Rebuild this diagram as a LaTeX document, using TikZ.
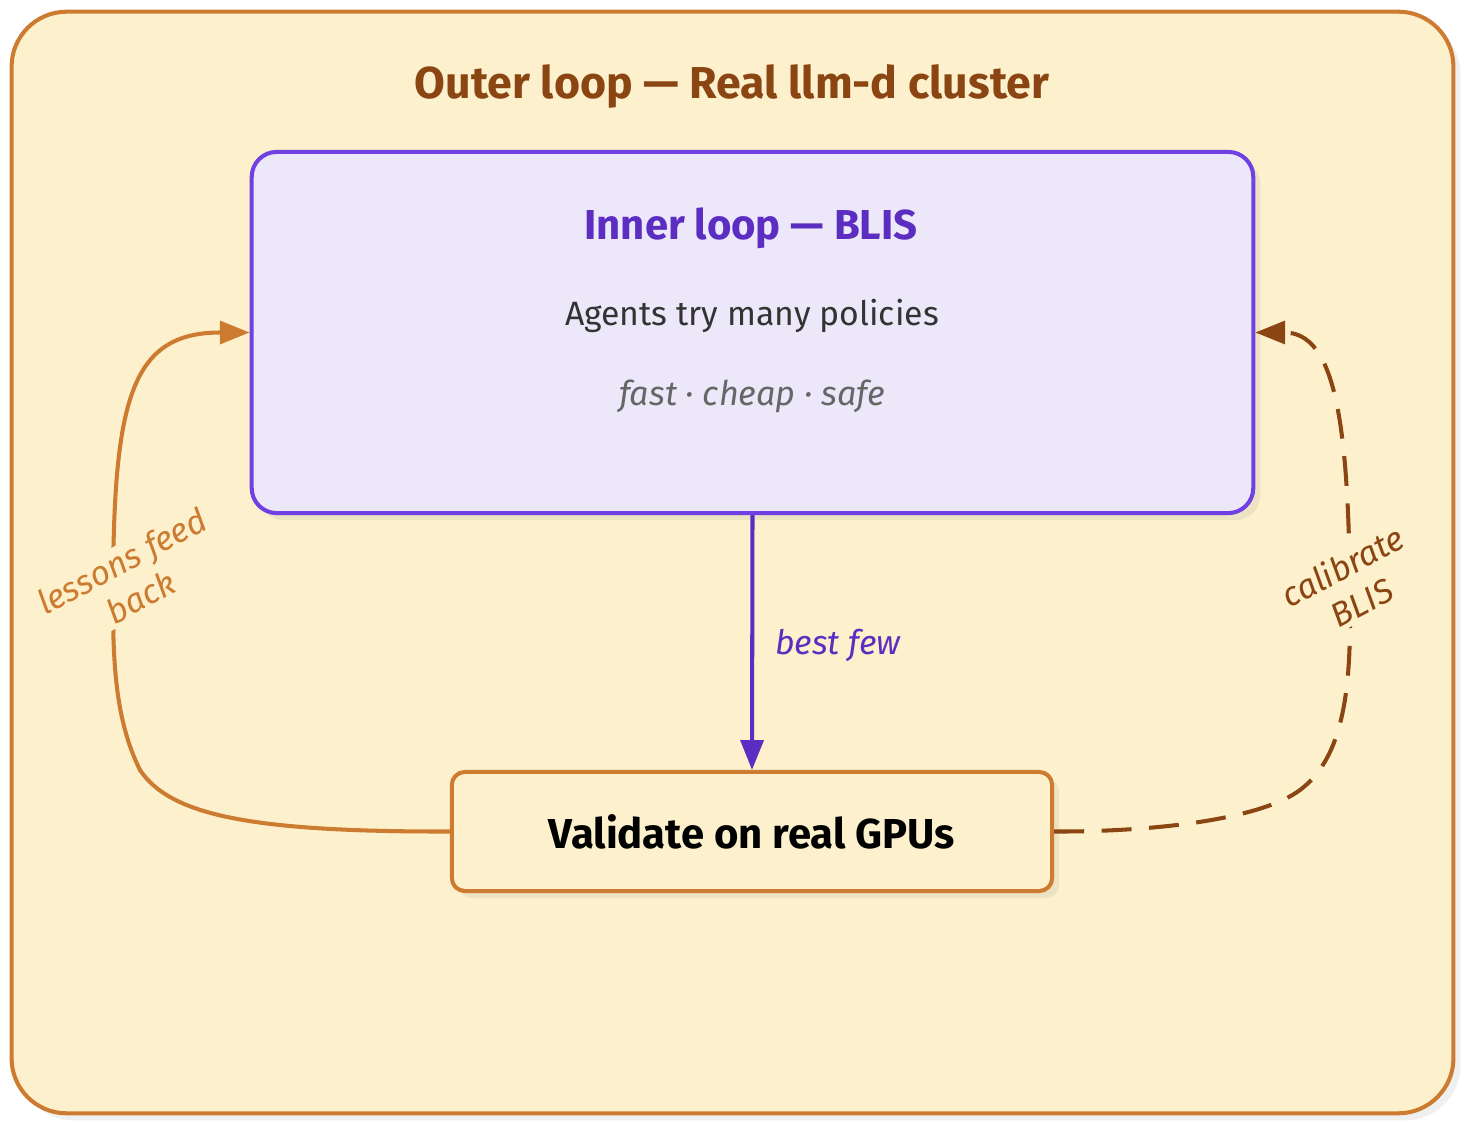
\documentclass[tikz,border=0pt]{standalone}
\usepackage{fontspec}
\setmainfont{Fira Sans}
\usetikzlibrary{arrows.meta,shadows}
\definecolor{outbg}{RGB}{252,241,204}
\definecolor{outc}{RGB}{205,123,48}
\definecolor{brownc}{RGB}{139,69,19}
\definecolor{inbg}{RGB}{236,232,250}
\definecolor{inc}{RGB}{112,64,226}
\definecolor{inttl}{RGB}{91,45,192}
\definecolor{txtc}{RGB}{51,51,51}
\definecolor{subc}{RGB}{102,102,102}

\begin{document}
\begin{tikzpicture}[
  x=0.01cm, y=-0.01cm,
  shd/.style={drop shadow={shadow xshift=2pt, shadow yshift=-2pt, opacity=0.12}},
  outerbox/.style={draw=outc, fill=outbg, line width=1.15pt, rounded corners=0.55cm,
                   minimum width=14.41cm, minimum height=11.01cm, shd},
  innerbox/.style={draw=inc, fill=inbg, line width=1.15pt, rounded corners=0.25cm,
                   minimum width=10.01cm, minimum height=3.61cm, shd},
  valbox/.style={draw=outc, fill=outbg, line width=1.15pt, rounded corners=0.13cm,
                 minimum width=6.0cm, minimum height=1.19cm, shd,
                 font=\fontsize{11.9pt}{14pt}\selectfont\bfseries},
  ttl/.style={font=\fontsize{12.7pt}{15pt}\selectfont\bfseries},
  body/.style={font=\fontsize{9.6pt}{11pt}\selectfont},
  lbl/.style={font=\fontsize{9.6pt}{11.5pt}\selectfont\itshape, align=center},
  tip/.style={-{Triangle[length=8.5pt, width=6.5pt]}},
]
\useasboundingbox (0,0) rectangle (1469,1131);

% ---------------- outer loop ----------------
\node[outerbox] (outer) at (732.5,562.5) {};
\node[ttl, text=brownc] (outerttl) at (732,87) {Outer loop — Real llm-d cluster};

% ---------------- inner loop ----------------
\node[innerbox] (inner) at (752.5,332.5) {};
\node[ttl, text=inttl, font=\fontsize{11.9pt}{14pt}\selectfont\bfseries] (innerttl) at (751,228) {Inner loop — BLIS};
\node[body, text=txtc] (agents) at (752,316) {Agents try many policies};
\node[body, text=subc, font=\fontsize{9.7pt}{11pt}\selectfont\itshape] (traits) at (752,396) {fast · cheap · safe};

% ---------------- validation ----------------
\node[valbox] (val) at (752,831.5) {Validate on real GPUs};

\draw[tip, draw=inttl, line width=1.15pt] (inner.south) -- (val.north);
\node[lbl, text=inttl] (best) at (838,645) {best few};

% lessons feed back
\draw[tip, draw=outc, line width=1.15pt]
  (val.west) .. controls (250,832) and (170,815) .. (140,770)
  .. controls (115,720) and (113,660) .. (113,600)
  .. controls (113,400) and (130,332.5) .. (inner.west);
\node[lbl, text=outc, fill=outbg, rotate=28, inner sep=1pt] (lessons) at (131,579) {lessons feed\\back};

% calibrate
\draw[tip, draw=brownc, line width=1.15pt, dash pattern=on 8.5pt off 5pt]
  (val.east) .. controls (1150,832) and (1260,820) .. (1300,790)
  .. controls (1340,760) and (1350,700) .. (1350,620)
  .. controls (1350,420) and (1335,332.5) .. (inner.east);
\node[lbl, text=brownc, fill=outbg, rotate=28, inner sep=1pt] (calib) at (1352,584) {calibrate\\BLIS};
\end{tikzpicture}
\end{document}
